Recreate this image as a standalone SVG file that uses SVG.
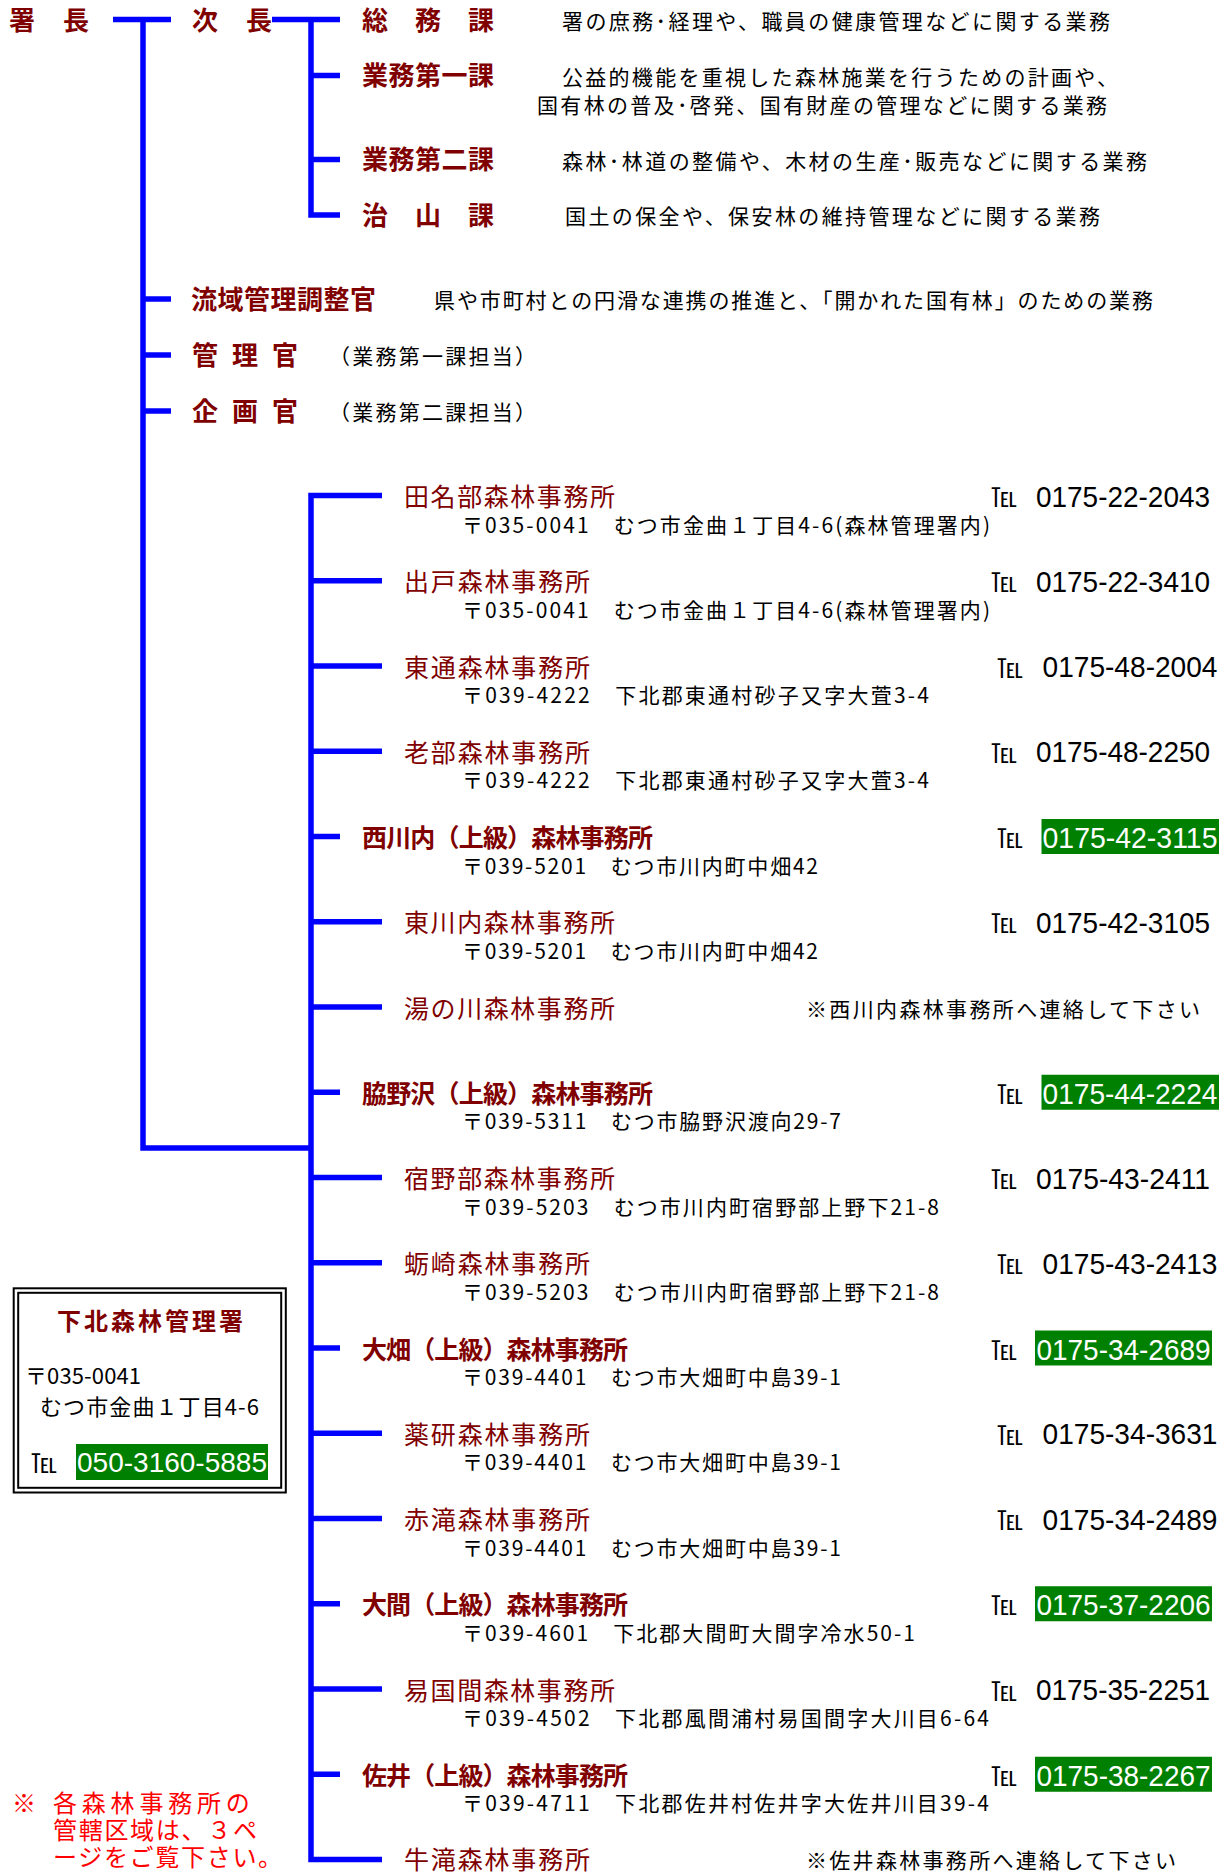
<svg xmlns="http://www.w3.org/2000/svg" width="1230" height="1872" viewBox="0 0 1230 1872">
<style>
text{font-family:"Noto Sans CJK JP","Noto Sans CJK SC",sans-serif}
.ln{stroke:#0000FF;stroke-width:5.5;fill:none;stroke-linejoin:miter;stroke-linecap:butt}
.hd{font-size:26px;font-weight:bold;fill:#800000}
.ds{font-size:21px;fill:#000}
.nm{font-size:25px;fill:#800000}
.nb{font-size:25px;font-weight:bold;fill:#800000}
.ad{font-size:21px;fill:#000}
.tl{font-size:26px;fill:#000}
.ph{font-family:"Liberation Sans",Arial,sans-serif;font-size:30px;fill:#000;text-anchor:end}
.pw{fill:#FFFFFF}
.gb{fill:#008000}
.bt{font-size:24px;font-weight:bold;fill:#800000}
.bd{font-size:22px;fill:#000}
.rn{font-size:24px;fill:#FF0000}
.bx{fill:none;stroke:#000;stroke-width:2}
</style>
<rect width="1230" height="1872" fill="#FFFFFF"/>
<g id="connectors" class="ln">
<path d="M113 19.5H171"/>
<path d="M143 19.5V1148H311"/>
<path d="M272 19.5H340"/>
<path d="M311 19.5V215H340"/>
<path d="M311 75.5H340"/>
<path d="M311 159.5H340"/>
<path d="M143 299H171"/>
<path d="M143 355H171"/>
<path d="M143 411H171"/>
<path d="M382 495.5H311V1859.5H382"/>
<path d="M311 580.75H382"/>
<path d="M311 666H382"/>
<path d="M311 751.25H382"/>
<path d="M311 836.5H340"/>
<path d="M311 921.75H382"/>
<path d="M311 1007H382"/>
<path d="M311 1092.25H340"/>
<path d="M311 1177.5H382"/>
<path d="M311 1262.75H382"/>
<path d="M311 1348H340"/>
<path d="M311 1433.25H382"/>
<path d="M311 1518.5H382"/>
<path d="M311 1603.75H340"/>
<path d="M311 1689H382"/>
<path d="M311 1774.25H340"/>
</g>
<g id="n-shocho"><text class="hd" x="9" y="29.5" textLength="80" lengthAdjust="spacing">署　長</text></g>
<g id="n-jicho"><text class="hd" x="192" y="29.5" textLength="80" lengthAdjust="spacing">次　長</text></g>
<g id="n-somu">
<text class="hd" x="362" y="29.5" textLength="132" lengthAdjust="spacing">総　務　課</text>
<text class="ds" x="562" y="29" textLength="548" lengthAdjust="spacing">署の庶務･経理や、職員の健康管理などに関する業務</text>
</g>
<g id="n-gyomu1">
<text class="hd" x="362" y="85" textLength="132" lengthAdjust="spacing">業務第一課</text>
<text class="ds" x="562" y="85" textLength="556" lengthAdjust="spacing">公益的機能を重視した森林施業を行うための計画や、</text>
<text class="ds" x="537" y="113" textLength="570" lengthAdjust="spacing">国有林の普及･啓発、国有財産の管理などに関する業務</text>
</g>
<g id="n-gyomu2">
<text class="hd" x="362" y="169" textLength="132" lengthAdjust="spacing">業務第二課</text>
<text class="ds" x="562" y="169" textLength="585" lengthAdjust="spacing">森林･林道の整備や、木材の生産･販売などに関する業務</text>
</g>
<g id="n-chisan">
<text class="hd" x="362" y="224.5" textLength="132" lengthAdjust="spacing">治　山　課</text>
<text class="ds" x="565" y="224" textLength="535" lengthAdjust="spacing">国土の保全や、保安林の維持管理などに関する業務</text>
</g>
<g id="n-ryuiki">
<text class="hd" x="191" y="308.5" textLength="185" lengthAdjust="spacing">流域管理調整官</text>
<text class="ds" x="434" y="308" textLength="719" lengthAdjust="spacing">県や市町村との円滑な連携の推進と、「開かれた国有林」のための業務</text>
</g>
<g id="n-kanri">
<text class="hd" x="192" y="364.5" textLength="106" lengthAdjust="spacing">管 理 官</text>
<text class="ds" x="329" y="364" textLength="207" lengthAdjust="spacing">（業務第一課担当）</text>
</g>
<g id="n-kikaku">
<text class="hd" x="192" y="420.7" textLength="106" lengthAdjust="spacing">企 画 官</text>
<text class="ds" x="329" y="420" textLength="207" lengthAdjust="spacing">（業務第二課担当）</text>
</g>

<g id="o-tanabu">
<text class="nm" x="404" y="506" textLength="211" lengthAdjust="spacing">田名部森林事務所</text>
<text class="tl" x="991" y="507">℡</text>
<text class="ph" x="1210" y="506.5" textLength="174" lengthAdjust="spacingAndGlyphs">0175-22-2043</text>
<text class="ad" x="462" y="532.5" textLength="528" lengthAdjust="spacing">〒035-0041　むつ市金曲１丁目4-6(森林管理署内)</text>
</g>
<g id="o-deto">
<text class="nm" x="404" y="591.25" textLength="186" lengthAdjust="spacing">出戸森林事務所</text>
<text class="tl" x="991" y="592.25">℡</text>
<text class="ph" x="1210" y="591.75" textLength="174" lengthAdjust="spacingAndGlyphs">0175-22-3410</text>
<text class="ad" x="462" y="617.75" textLength="528" lengthAdjust="spacing">〒035-0041　むつ市金曲１丁目4-6(森林管理署内)</text>
</g>
<g id="o-higashidori">
<text class="nm" x="404" y="676.5" textLength="186" lengthAdjust="spacing">東通森林事務所</text>
<text class="tl" x="997" y="677.5">℡</text>
<text class="ph" x="1217.5" y="677" textLength="175" lengthAdjust="spacingAndGlyphs">0175-48-2004</text>
<text class="ad" x="462" y="703" textLength="467" lengthAdjust="spacing">〒039-4222　下北郡東通村砂子又字大萓3-4</text>
</g>
<g id="o-oppe">
<text class="nm" x="404" y="761.75" textLength="186" lengthAdjust="spacing">老部森林事務所</text>
<text class="tl" x="991" y="762.75">℡</text>
<text class="ph" x="1210" y="762.25" textLength="174" lengthAdjust="spacingAndGlyphs">0175-48-2250</text>
<text class="ad" x="462" y="788.25" textLength="467" lengthAdjust="spacing">〒039-4222　下北郡東通村砂子又字大萓3-4</text>
</g>
<g id="o-nishikawauchi">
<text class="nb" x="362" y="847" textLength="291" lengthAdjust="spacing">西川内（上級）森林事務所</text>
<text class="tl" x="997" y="848">℡</text>
<rect class="gb" x="1041.5" y="819" width="177.5" height="35"/>
<text class="ph pw" x="1217.5" y="848" textLength="175" lengthAdjust="spacingAndGlyphs">0175-42-3115</text>
<text class="ad" x="462" y="873.5" textLength="356" lengthAdjust="spacing">〒039-5201　むつ市川内町中畑42</text>
</g>
<g id="o-higashikawauchi">
<text class="nm" x="404" y="932.25" textLength="211" lengthAdjust="spacing">東川内森林事務所</text>
<text class="tl" x="991" y="933.25">℡</text>
<text class="ph" x="1210" y="932.75" textLength="174" lengthAdjust="spacingAndGlyphs">0175-42-3105</text>
<text class="ad" x="462" y="958.75" textLength="356" lengthAdjust="spacing">〒039-5201　むつ市川内町中畑42</text>
</g>
<g id="o-yunokawa">
<text class="nm" x="404" y="1017.5" textLength="211" lengthAdjust="spacing">湯の川森林事務所</text>
<text class="ad" x="806" y="1017" textLength="394" lengthAdjust="spacing">※西川内森林事務所へ連絡して下さい</text>
</g>
<g id="o-wakinosawa">
<text class="nb" x="362" y="1102.75" textLength="291" lengthAdjust="spacing">脇野沢（上級）森林事務所</text>
<text class="tl" x="997" y="1103.75">℡</text>
<rect class="gb" x="1041.5" y="1074.75" width="177.5" height="35"/>
<text class="ph pw" x="1217.5" y="1103.75" textLength="175" lengthAdjust="spacingAndGlyphs">0175-44-2224</text>
<text class="ad" x="462" y="1129.25" textLength="379" lengthAdjust="spacing">〒039-5311　むつ市脇野沢渡向29-7</text>
</g>
<g id="o-shukunobe">
<text class="nm" x="404" y="1188" textLength="211" lengthAdjust="spacing">宿野部森林事務所</text>
<text class="tl" x="991" y="1189">℡</text>
<text class="ph" x="1210" y="1188.5" textLength="174" lengthAdjust="spacingAndGlyphs">0175-43-2411</text>
<text class="ad" x="462" y="1214.5" textLength="477" lengthAdjust="spacing">〒039-5203　むつ市川内町宿野部上野下21-8</text>
</g>
<g id="o-kakizaki">
<text class="nm" x="404" y="1273.25" textLength="186" lengthAdjust="spacing">蛎崎森林事務所</text>
<text class="tl" x="997" y="1274.25">℡</text>
<text class="ph" x="1217.5" y="1273.75" textLength="175" lengthAdjust="spacingAndGlyphs">0175-43-2413</text>
<text class="ad" x="462" y="1299.75" textLength="477" lengthAdjust="spacing">〒039-5203　むつ市川内町宿野部上野下21-8</text>
</g>
<g id="o-ohata">
<text class="nb" x="362" y="1358.5" textLength="266" lengthAdjust="spacing">大畑（上級）森林事務所</text>
<text class="tl" x="991" y="1359.5">℡</text>
<rect class="gb" x="1035" y="1330.5" width="177" height="35"/>
<text class="ph pw" x="1210.5" y="1359.5" textLength="174" lengthAdjust="spacingAndGlyphs">0175-34-2689</text>
<text class="ad" x="462" y="1385" textLength="379" lengthAdjust="spacing">〒039-4401　むつ市大畑町中島39-1</text>
</g>
<g id="o-yagen">
<text class="nm" x="404" y="1443.75" textLength="186" lengthAdjust="spacing">薬研森林事務所</text>
<text class="tl" x="997" y="1444.75">℡</text>
<text class="ph" x="1217.5" y="1444.25" textLength="175" lengthAdjust="spacingAndGlyphs">0175-34-3631</text>
<text class="ad" x="462" y="1470.25" textLength="379" lengthAdjust="spacing">〒039-4401　むつ市大畑町中島39-1</text>
</g>
<g id="o-akataki">
<text class="nm" x="404" y="1529" textLength="186" lengthAdjust="spacing">赤滝森林事務所</text>
<text class="tl" x="997" y="1530">℡</text>
<text class="ph" x="1217.5" y="1529.5" textLength="175" lengthAdjust="spacingAndGlyphs">0175-34-2489</text>
<text class="ad" x="462" y="1555.5" textLength="379" lengthAdjust="spacing">〒039-4401　むつ市大畑町中島39-1</text>
</g>
<g id="o-oma">
<text class="nb" x="362" y="1614.25" textLength="266" lengthAdjust="spacing">大間（上級）森林事務所</text>
<text class="tl" x="991" y="1615.25">℡</text>
<rect class="gb" x="1035" y="1586.25" width="177" height="35"/>
<text class="ph pw" x="1210.5" y="1615.25" textLength="174" lengthAdjust="spacingAndGlyphs">0175-37-2206</text>
<text class="ad" x="462" y="1640.75" textLength="453" lengthAdjust="spacing">〒039-4601　下北郡大間町大間字冷水50-1</text>
</g>
<g id="o-ikokuma">
<text class="nm" x="404" y="1699.5" textLength="211" lengthAdjust="spacing">易国間森林事務所</text>
<text class="tl" x="991" y="1700.5">℡</text>
<text class="ph" x="1210" y="1700" textLength="174" lengthAdjust="spacingAndGlyphs">0175-35-2251</text>
<text class="ad" x="462" y="1726" textLength="527" lengthAdjust="spacing">〒039-4502　下北郡風間浦村易国間字大川目6-64</text>
</g>
<g id="o-sai">
<text class="nb" x="362" y="1784.75" textLength="266" lengthAdjust="spacing">佐井（上級）森林事務所</text>
<text class="tl" x="991" y="1785.75">℡</text>
<rect class="gb" x="1035" y="1756.75" width="177" height="35"/>
<text class="ph pw" x="1210.5" y="1785.75" textLength="174" lengthAdjust="spacingAndGlyphs">0175-38-2267</text>
<text class="ad" x="462" y="1811.25" textLength="527" lengthAdjust="spacing">〒039-4711　下北郡佐井村佐井字大佐井川目39-4</text>
</g>
<g id="o-ushitaki">
<text class="nm" x="404" y="1869" textLength="186" lengthAdjust="spacing">牛滝森林事務所</text>
<text class="ad" x="806" y="1868" textLength="370" lengthAdjust="spacing">※佐井森林事務所へ連絡して下さい</text>
</g>

<g id="n-office">
<rect class="bx" x="13.7" y="1288.3" width="272.1" height="204.2"/>
<rect class="bx" x="18.2" y="1292.8" width="263" height="195"/>
<text class="bt" x="57" y="1329.5" textLength="186" lengthAdjust="spacing">下北森林管理署</text>
<text class="bd" x="25" y="1384" textLength="116" lengthAdjust="spacing">〒035-0041</text>
<text class="bd" x="40" y="1414.5" textLength="219" lengthAdjust="spacing">むつ市金曲１丁目4-6</text>
<text class="tl" x="31" y="1473">℡</text>
<rect class="gb" x="76" y="1444" width="192" height="36"/>
<text class="ph pw" x="267" y="1472" style="font-size:28px" textLength="190" lengthAdjust="spacingAndGlyphs">050-3160-5885</text>
</g>
<g id="n-note">
<text class="rn"><tspan x="12" y="1812">※</tspan><tspan x="53" y="1812" style="letter-spacing:4.8px">各森林事務所の</tspan><tspan x="53" y="1839" style="letter-spacing:1.7px">管轄区域は、３ペ</tspan><tspan x="53" y="1866" style="letter-spacing:1.7px">ージをご覧下さい。</tspan></text>
</g>
</svg>
